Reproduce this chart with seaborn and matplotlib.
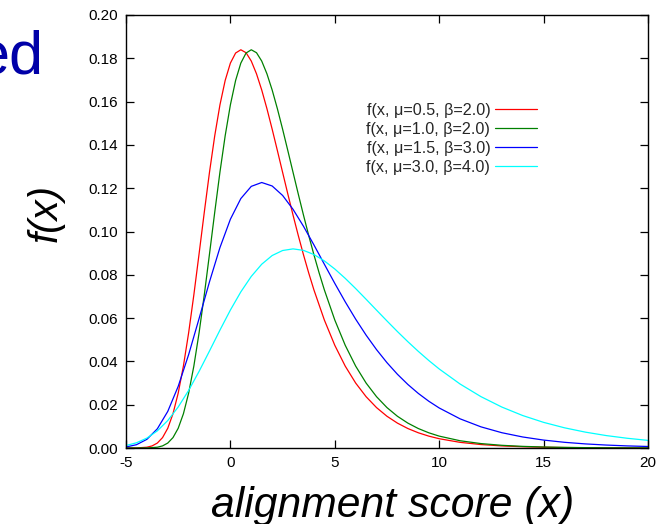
import matplotlib
matplotlib.use("Agg")
import matplotlib.pyplot as plt
import seaborn as sns
import pandas as pd
from matplotlib.lines import Line2D

x_tail = [4.5, 5, 5.5, 6, 6.5, 7, 7.5, 8, 8.5, 9, 9.5, 10,
          11, 12, 13, 14, 15, 16, 17, 18, 19, 20]

x_red = [-5, -4.5, -4, -3.75, -3.5, -3.25, -3, -2.75, -2.5, -2.25, -2, -1.75, -1.5,
         -1.25, -1, -0.75, -0.5, -0.25, 0, 0.25, 0.5, 0.75, 1, 1.25, 1.5, 1.75, 2,
         2.25, 2.5, 2.75, 3, 3.25, 3.5, 3.75, 4] + x_tail
f_red = [0.0000, 0.00003, 0.00036, 0.00097, 0.00228, 0.00480, 0.00911, 0.01582,
         0.02535, 0.03788, 0.05320, 0.07078, 0.08969, 0.10893, 0.12747, 0.14424,
         0.15853, 0.16979, 0.17780, 0.18244, 0.18394, 0.18258, 0.17872, 0.17283,
         0.16536, 0.15671, 0.14727, 0.13738, 0.12733, 0.11733, 0.10757, 0.09818,
         0.08926, 0.08086, 0.07303,
         0.05911, 0.04743, 0.03781, 0.02999, 0.02369, 0.01865, 0.01465, 0.01149,
         0.00899, 0.00703, 0.00549, 0.00429, 0.00261, 0.00159, 0.00096, 0.00058,
         0.00035, 0.00022, 0.00013, 0.00008, 0.00005, 0.00003]

x_green = [-5, -4.5, -4, -3.5, -3.25, -3, -2.75, -2.5, -2.25, -2, -1.75, -1.5, -1.25,
           -1, -0.75, -0.5, -0.25, 0, 0.25, 0.5, 0.75, 1, 1.25, 1.5, 1.75, 2, 2.25,
           2.5, 2.75, 3, 3.25, 3.5, 3.75, 4, 4.25] + x_tail
f_green = [0.0000, 0.0000, 0.00003, 0.00036, 0.00097, 0.00228, 0.00480, 0.00911,
           0.01582, 0.02535, 0.03788, 0.05320, 0.07078, 0.08969, 0.10893, 0.12747,
           0.14424, 0.15853, 0.16979, 0.17780, 0.18244, 0.18394, 0.18258, 0.17872,
           0.17283, 0.16536, 0.15671, 0.14727, 0.13738, 0.12733, 0.11733, 0.10757,
           0.09818, 0.08926, 0.08086,
           0.07303, 0.05911, 0.04743, 0.03781, 0.02999, 0.02369, 0.01865, 0.01465,
           0.01149, 0.00899, 0.00703, 0.00549, 0.00335, 0.00204, 0.00124, 0.00075,
           0.00046, 0.00028, 0.00017, 0.00010, 0.00006, 0.00004]

x_blue = [-5, -4.5, -4, -3.5, -3, -2.5, -2, -1.5, -1, -0.5, 0, 0.5, 1, 1.5, 2, 2.5,
          3, 3.5, 4] + x_tail
f_blue = [0.00047, 0.00152, 0.00400, 0.00886, 0.01690, 0.02847, 0.04314, 0.05979,
          0.07681, 0.09259, 0.10568, 0.11522, 0.12085, 0.12263, 0.12102, 0.11666,
          0.11024, 0.10242, 0.09380,
          0.08488, 0.07603, 0.06751, 0.05950, 0.05212, 0.04542, 0.03940, 0.03405,
          0.02934, 0.02521, 0.02161, 0.01849, 0.01347, 0.00977, 0.00706, 0.00509,
          0.00366, 0.00263, 0.00189, 0.00136, 0.00097, 0.00070]

x_cyan = [-5, -4.5, -4, -3.5, -3, -2.5, -2, -1.5, -1, -0.5, 0, 0.5, 1, 1.5, 2, 2.5,
          3, 3.5, 4] + x_tail
f_cyan = [0.00114, 0.00240, 0.00456, 0.00791, 0.01268, 0.01894, 0.02660, 0.03539,
          0.04484, 0.05447, 0.06373, 0.07212, 0.07926, 0.08489, 0.08890, 0.09122,
          0.09197, 0.09129, 0.08936,
          0.08642, 0.08268, 0.07835, 0.07364, 0.06869, 0.06366, 0.05867, 0.05378,
          0.04909, 0.04463, 0.04043, 0.03651, 0.02955, 0.02372, 0.01891, 0.01499,
          0.01184, 0.00933, 0.00733, 0.00574, 0.00450, 0.00352]

labels = ["f(x, μ=0.5, β=2.0)", "f(x, μ=1.0, β=2.0)",
          "f(x, μ=1.5, β=3.0)", "f(x, μ=3.0, β=4.0)"]
colors = ["#ff0000", "#008000", "#0000ff", "#00ffff"]
x_ticks = [-5, 0, 5, 10, 15, 20]
y_ticks = [0.00, 0.02, 0.04, 0.06, 0.08, 0.10, 0.12, 0.14, 0.16, 0.18, 0.20]

series = [(x_red, f_red), (x_green, f_green), (x_blue, f_blue), (x_cyan, f_cyan)]
df = pd.concat([pd.DataFrame({"x": xs, "y": ys, "curve": lab})
                for (xs, ys), lab in zip(series, labels)], ignore_index=True)

sns.set_theme(style="ticks")
plt.rcParams['font.family'] = ['Liberation Sans', 'DejaVu Sans']

W, H = 667, 524
fig = plt.figure(figsize=(W / 100, H / 100), dpi=100)
ax = fig.add_axes([126 / W, 1 - 448 / H, (648 - 126) / W, (448 - 15) / H])

sns.lineplot(data=df, x="x", y="y", hue="curve", palette=colors, ax=ax,
             linewidth=0.9, legend=False, sort=False)

ax.set_xlim(-5, 20)
ax.set_ylim(0, 0.20)
ax.set_xticks(x_ticks)
ax.set_xticklabels([str(t) for t in x_ticks])
ax.set_yticks(y_ticks)
ax.set_yticklabels([f"{t:.2f}" for t in y_ticks])
ax.set_xlabel("")
ax.set_ylabel("")
ax.tick_params(direction="in", length=6, width=0.9, top=True, right=True,
               labelsize=11, colors="black", pad=6)
for sp in ax.spines.values():
    sp.set_visible(True)
    sp.set_color("black")
    sp.set_linewidth(1.0)

handles = [Line2D([0], [0], color=c, lw=0.9) for c in colors]
ax.legend(handles, labels, loc="upper right", bbox_to_anchor=(537 / W, 1 - 103 / H),
          bbox_transform=fig.transFigure, frameon=False, markerfirst=False,
          fontsize=11.6, handlelength=2.6, handletextpad=0.3, labelspacing=0.25,
          borderpad=0, borderaxespad=0)

fig.text(393 / W, 1 - 517 / H, "alignment score (x)", fontsize=30.7, style="italic",
         ha="center", va="baseline", color="black")
fig.text(46 / W, 1 - 213 / H, "f(x)", fontsize=29, style="italic", rotation=90,
         ha="center", va="center", color="black")
fig.text(44 / W, 1 - 73 / H, "ed", fontsize=44, color="#0000a8",
         ha="right", va="baseline")

fig.savefig("out.png", dpi=100)
